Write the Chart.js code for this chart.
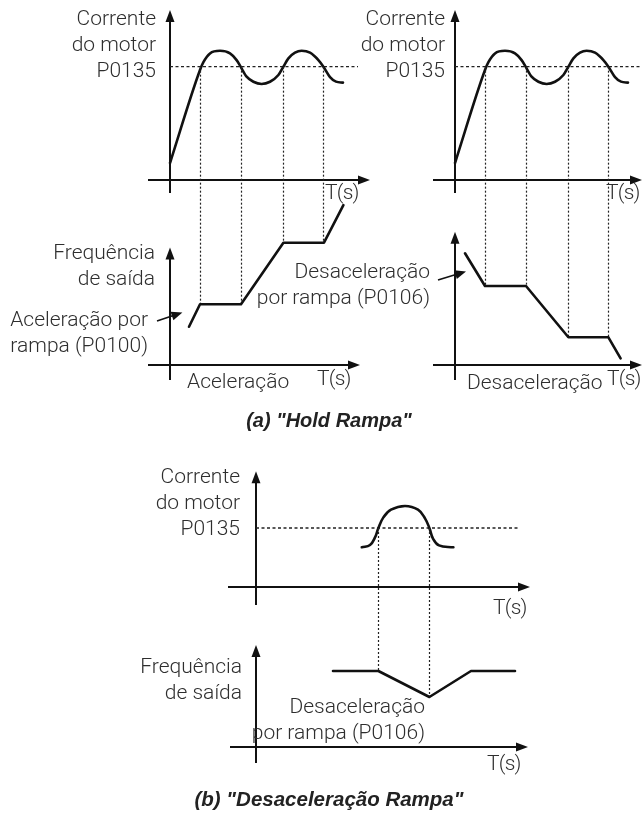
<!DOCTYPE html>
<html><head><meta charset="utf-8">
<script src="https://cdn.jsdelivr.net/npm/chart.js@4.4.1/dist/chart.umd.min.js"></script>
<style>
html,body{margin:0;padding:0;background:#fff}
#wrap{position:relative;width:642px;height:814px;overflow:hidden;background:#fff}
#wrap canvas{position:absolute;left:0;top:0}
.lbl{position:absolute;font-family:Roboto,"Liberation Sans",sans-serif;font-weight:300;font-size:21px;line-height:26px;color:#2e2e2e;white-space:nowrap}
.r{text-align:right}
.ts{letter-spacing:-0.8px}
.cap{position:absolute;width:400px;text-align:center;font-family:"Liberation Sans",Arial,sans-serif;font-weight:bold;font-style:italic;font-size:20px;line-height:24px;color:#222;white-space:nowrap}
</style></head>
<body>
<div id="wrap">
<canvas id="curA" width="642" height="814"></canvas>
<canvas id="freqA" width="642" height="814"></canvas>
<canvas id="curD" width="642" height="814"></canvas>
<canvas id="freqD" width="642" height="814"></canvas>
<canvas id="curR" width="642" height="814"></canvas>
<canvas id="freqR" width="642" height="814"></canvas>

<div class="lbl r" style="right:486px;top:5px">Corrente<br>do motor<br>P0135</div>
<div class="lbl r" style="right:197px;top:5px">Corrente<br>do motor<br>P0135</div>
<div class="lbl ts" style="left:325px;top:179px">T(s)</div>
<div class="lbl ts" style="left:606px;top:179px">T(s)</div>
<div class="lbl r" style="right:487px;top:239px">Frequência<br>de saída</div>
<div class="lbl r" style="right:494px;top:306px">Aceleração por<br>rampa (P0100)</div>
<div class="lbl r" style="right:212px;top:258px">Desaceleração<br>por rampa (P0106)</div>
<div class="lbl" style="left:187px;top:368px">Aceleração</div>
<div class="lbl ts" style="left:317px;top:365px">T(s)</div>
<div class="lbl" style="left:467px;top:369px">Desaceleração</div>
<div class="lbl ts" style="left:607px;top:365px">T(s)</div>
<div class="cap" style="left:129px;top:408px">(a) "Hold Rampa"</div>

<div class="lbl r" style="right:402px;top:463px">Corrente<br>do motor<br>P0135</div>
<div class="lbl ts" style="left:493px;top:594px">T(s)</div>
<div class="lbl r" style="right:400px;top:653px">Frequência<br>de saída</div>
<div class="lbl r" style="right:217px;top:693px">Desaceleração<br>por rampa (P0106)</div>
<div class="lbl ts" style="left:487px;top:750px">T(s)</div>
<div class="cap" style="left:129px;top:787px;font-size:20.5px">(b) "Desaceleração Rampa"</div>
</div>

<script>
// ---------------- DATA ----------------
// (a) "Hold Rampa": motor current (same waveform in both columns), time in s-units
const holdCurrentT = [0, 1.5, 1.67, 2.0, 2.5, 3.0, 3.33, 3.53, 3.83, 4.17, 4.58, 5.0, 5.42, 5.67, 5.92, 6.25, 6.58, 7.0, 7.42, 7.67, 8.0, 8.3, 8.65];
const holdCurrentI = [15, 97, 104, 111.7, 114, 111.7, 105.8, 100, 91.2, 86.7, 84.7, 86.7, 92.6, 100, 107.3, 112.3, 114, 112.3, 105.8, 100, 90.8, 86.8, 85.9];
const holdCrossings = [1.5, 3.55, 5.67, 7.67];     // current crosses P0135
const currentLimit = 100;                           // P0135 level

// (a) left: output frequency during acceleration
const accFreqT = [0.95, 1.5, 3.55, 5.67, 7.7, 8.67];
const accFreqF = [31.9, 50.6, 50.6, 101.9, 101.9, 133.3];

// (a) right: output frequency during deceleration
const decFreqT = [0.5, 1.5, 3.55, 5.67, 7.67, 8.28];
const decFreqF = [93.1, 65.8, 65.8, 23.1, 23.1, 5.6];

// (b) "Desaceleração Rampa": current bump and frequency dip
const rampCurrentT = [5.29, 5.7, 5.95, 6.12, 6.37, 6.75, 7.45, 8.1, 8.45, 8.67, 8.85, 9.15, 9.87];
const rampCurrentI = [67.3, 71.2, 84, 100, 118, 131, 137.3, 131, 116.4, 100, 82, 70.5, 67.3];
const rampCrossings = [6.12, 8.67];
const rampFreqT = [3.85, 6.12, 8.67, 10.75, 12.95];
const rampFreqF = [76, 76, 50, 76, 76];

// ---------------- LAYOUT / STYLE ----------------
const W = 642, H = 814;
const INK = '#111';
const specs = {
  curA:  {ox:170, oy:180, sx:20, sy:170/150, xmax:10,   ymax:150, overL:22, overB:13, thr:[0, 9.4]},
  freqA: {ox:170, oy:365, sx:20, sy:1.2,     xmax:9.5,  ymax:98,  overL:22, overB:15, top:'curA', cross:holdCrossings, pointer:[-0.65,36.7,0.62,43.8]},
  curD:  {ox:455, oy:180, sx:20, sy:170/150, xmax:9.35, ymax:150, overL:22, overB:13, thr:[0, 9.4]},
  freqD: {ox:455, oy:365, sx:20, sy:1.2,     xmax:9.35, ymax:111, overL:22, overB:15, top:'curD', cross:holdCrossings, pointer:[-0.85,70.8,0.55,78]},
  curR:  {ox:256, oy:587, sx:20, sy:0.59,    xmax:13.7, ymax:196, overL:28, overB:18, thr:[0, 13.1]},
  freqR: {ox:256, oy:747, sx:20, sy:1,       xmax:13.6, ymax:102, overL:26, overB:16, top:'curR', cross:rampCrossings}
};
const charts = {};

function pts(t, v){ return t.map((x,i)=>({x:x, y:v[i]})); }
function interp(t, v, x){
  for (let i=0;i<t.length-1;i++){
    if (x>=t[i] && x<=t[i+1]) return v[i] + (v[i+1]-v[i])*(x-t[i])/(t[i+1]-t[i]);
  }
  return x<t[0]? v[0] : v[v.length-1];
}
function head(ctx,x1,y1,x2,y2,len,w){
  const a=Math.atan2(y2-y1,x2-x1), c=Math.cos(a), s=Math.sin(a);
  ctx.beginPath(); ctx.moveTo(x2,y2);
  ctx.lineTo(x2-len*c+w*s, y2-len*s-w*c);
  ctx.lineTo(x2-len*c-w*s, y2-len*s+w*c);
  ctx.closePath(); ctx.fill();
}

const diagramPlugin = {
  id:'diagram',
  beforeDatasetsDraw(chart){
    const s = specs[chart.canvas.id]; if(!s) return;
    const ctx = chart.ctx, xs = chart.scales.x, ys = chart.scales.y, ca = chart.chartArea;
    const x0 = xs.getPixelForValue(0), y0 = ys.getPixelForValue(0);
    ctx.save();
    ctx.strokeStyle = INK; ctx.fillStyle = INK; ctx.lineWidth = 2; ctx.setLineDash([]);
    // x axis
    ctx.beginPath(); ctx.moveTo(x0 - s.overL, y0); ctx.lineTo(ca.right - 8, y0); ctx.stroke();
    head(ctx, x0, y0, ca.right, y0, 12, 4.5);
    // y axis
    ctx.beginPath(); ctx.moveTo(x0, y0 + s.overB); ctx.lineTo(x0, ca.top + 8); ctx.stroke();
    head(ctx, x0, y0, x0, ca.top, 12, 4.5);
    // threshold (P0135)
    if (s.thr){
      const yt = ys.getPixelForValue(currentLimit);
      ctx.lineWidth = 1.3; ctx.setLineDash([3,2.5]); ctx.strokeStyle = '#222';
      ctx.beginPath(); ctx.moveTo(xs.getPixelForValue(s.thr[0]), yt); ctx.lineTo(xs.getPixelForValue(s.thr[1]), yt); ctx.stroke();
    }
    // dotted drops from the current crossing to the frequency curve
    if (s.top && charts[s.top]){
      const ds = chart.data.datasets[0].data;
      const tt = ds.map(p=>p.x), vv = ds.map(p=>p.y);
      const yTop = charts[s.top].scales.y.getPixelForValue(currentLimit);
      ctx.lineWidth = 1.2; ctx.setLineDash([2,2]); ctx.strokeStyle = '#222';
      s.cross.forEach(t=>{
        const x = Math.round(xs.getPixelForValue(t)) + 0.5;
        ctx.beginPath(); ctx.moveTo(x, yTop); ctx.lineTo(x, ys.getPixelForValue(interp(tt, vv, t))); ctx.stroke();
      });
    }
    // pointer arrow for the ramp label
    if (s.pointer){
      const p = s.pointer;
      const x1=xs.getPixelForValue(p[0]), y1=ys.getPixelForValue(p[1]);
      const x2=xs.getPixelForValue(p[2]), y2=ys.getPixelForValue(p[3]);
      ctx.setLineDash([]); ctx.lineWidth = 1.6; ctx.strokeStyle = INK;
      const a=Math.atan2(y2-y1,x2-x1);
      ctx.beginPath(); ctx.moveTo(x1,y1); ctx.lineTo(x2-8*Math.cos(a), y2-8*Math.sin(a)); ctx.stroke();
      head(ctx, x1, y1, x2, y2, 11, 4.5);
    }
    ctx.restore();
  }
};

function makeChart(id, t, v, mode){
  const s = specs[id];
  const cfg = {
    type:'line',
    data:{ datasets:[{
      data: pts(t, v), borderColor: INK, borderWidth: 2.6, pointRadius: 0, fill: false, clip: false,
      tension: mode ? 0.4 : 0, cubicInterpolationMode: mode === 'monotone' ? 'monotone' : 'default',
      borderCapStyle: 'round', borderJoinStyle: 'round'
    }]},
    options:{
      responsive:false, animation:false, events:[],
      layout:{ padding:{
        left: s.ox, right: W - (s.ox + s.xmax*s.sx),
        top: s.oy - s.ymax*s.sy, bottom: H - s.oy } },
      plugins:{ legend:{display:false}, tooltip:{enabled:false} },
      scales:{
        x:{ type:'linear', display:false, min:0, max:s.xmax },
        y:{ type:'linear', display:false, min:0, max:s.ymax }
      }
    },
    plugins:[diagramPlugin]
  };
  charts[id] = new Chart(document.getElementById(id), cfg);
}

makeChart('curA', holdCurrentT, holdCurrentI, 'monotone');
makeChart('freqA', accFreqT, accFreqF, null);
makeChart('curD', holdCurrentT, holdCurrentI, 'monotone');
makeChart('freqD', decFreqT, decFreqF, null);
makeChart('curR', rampCurrentT, rampCurrentI, 'bezier');
makeChart('freqR', rampFreqT, rampFreqF, null);
</script>
</body></html>
